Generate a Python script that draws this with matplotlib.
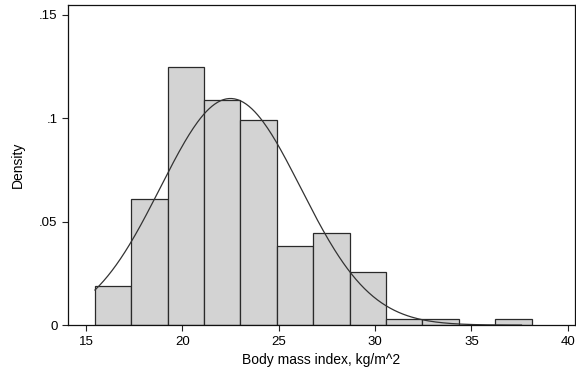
# Histogram of BMI with normal density overlay (Stata-like look)
import numpy as np
import matplotlib
matplotlib.use("Agg")
import matplotlib.pyplot as plt

plt.rcParams['font.family'] = ['Liberation Sans', 'DejaVu Sans']

bin_start = 15.47
bin_width = 1.888
density = [0.0190, 0.0608, 0.1250, 0.1089, 0.0992, 0.0382,
           0.0447, 0.0255, 0.0028, 0.0028, 0.0, 0.0028]
bmi_mean = 22.5
bmi_sd = 3.64
bmi_max = 37.6

xticks = [15, 20, 25, 30, 35, 40]
yticks = [0, 0.05, 0.1, 0.15]
ytick_labels = ["0", ".05", ".1", ".15"]

edges = bin_start + bin_width * np.arange(len(density) + 1)

fig = plt.figure(figsize=(5.76, 3.75), dpi=100)
ax = fig.add_axes([0.118, 0.133, 0.880, 0.853])

ax.bar(edges[:-1], density, width=bin_width, align='edge',
       color='#d3d3d3', edgecolor='#2a2a2a', linewidth=0.9)

x = np.linspace(bin_start, bmi_max, 300)
pdf = np.exp(-0.5 * ((x - bmi_mean) / bmi_sd) ** 2) / (bmi_sd * np.sqrt(2 * np.pi))
ax.plot(x, pdf, color='#333333', linewidth=0.9)

ax.set_xlim(14.07, 40.37)
ax.set_ylim(0, 0.1547)
ax.set_xticks(xticks)
ax.set_yticks(yticks)
ax.set_yticklabels(ytick_labels)
ax.tick_params(direction='out', length=4, width=0.8, labelsize=9.5, color='#222222')
for s in ax.spines.values():
    s.set_linewidth(0.9)
    s.set_color('#111111')

ax.set_xlabel("Body mass index, kg/m^2", fontsize=10)
ax.set_ylabel("Density", fontsize=10, labelpad=10)

fig.savefig("out.png", dpi=100)
